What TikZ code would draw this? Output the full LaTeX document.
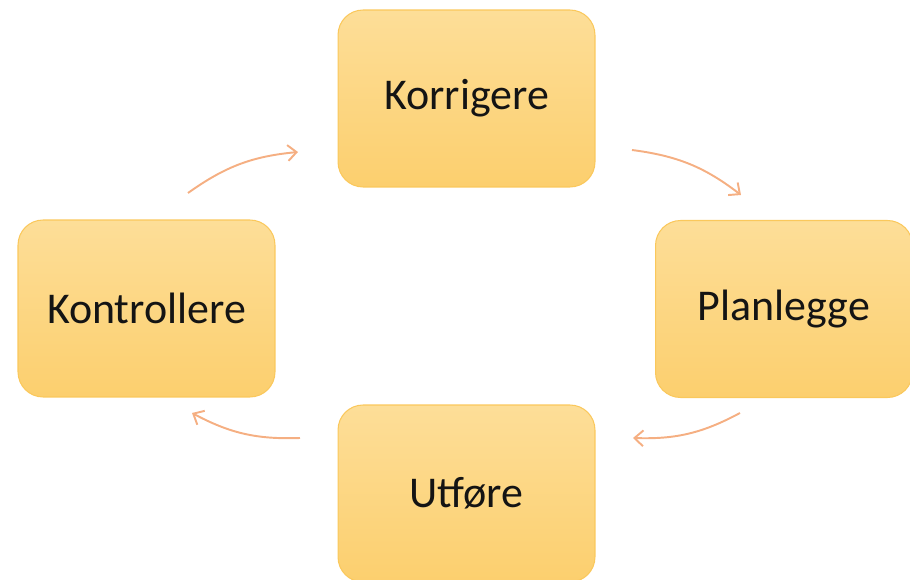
\documentclass[tikz,border=0pt]{standalone}
\usepackage{fontspec}
\setmainfont{Carlito}
\usetikzlibrary{arrows.meta}

\definecolor{boxtop}{RGB}{253,222,152}
\definecolor{boxbot}{RGB}{252,207,110}
\definecolor{boxline}{RGB}{250,200,92}
\definecolor{arrowcol}{RGB}{245,175,130}

\begin{document}
\begin{tikzpicture}[x=0.02cm,y=-0.02cm,
    step box/.style={rectangle,rounded corners=0.5cm,draw=boxline,line width=0.6pt,
      top color=boxtop,bottom color=boxbot,minimum width=5.14cm,minimum height=3.54cm,
      font=\fontsize{25}{30}\selectfont,text=black!92},
    cycle arrow/.style={-{Straight Barb[length=5pt,width=9pt]},draw=arrowcol,line width=1.1pt,bend left=15}]

\useasboundingbox (0,0) rectangle (910,580);

\node[step box] (korr) at (466.5,98.5) {Korrigere};
\node[step box] (plan) at (784,309) {Planlegge};
\node[step box] (utf) at (466.5,493.5) {Utføre};
\node[step box] (kont) at (146.5,308.5) {Kontrollere};

% arc ends
\coordinate (k1) at (188,193);
\coordinate (k2) at (298,152);
\coordinate (p1) at (632,150);
\coordinate (p2) at (741,195);
\coordinate (u1) at (740,413);
\coordinate (u2) at (633,438);
\coordinate (c1) at (300,438);
\coordinate (c2) at (192,413);

\path
(k1) edge [cycle arrow] (k2)
(p1) edge [cycle arrow] (p2)
(u1) edge [cycle arrow] (u2)
(c1) edge [cycle arrow] (c2);

\end{tikzpicture}
\end{document}
